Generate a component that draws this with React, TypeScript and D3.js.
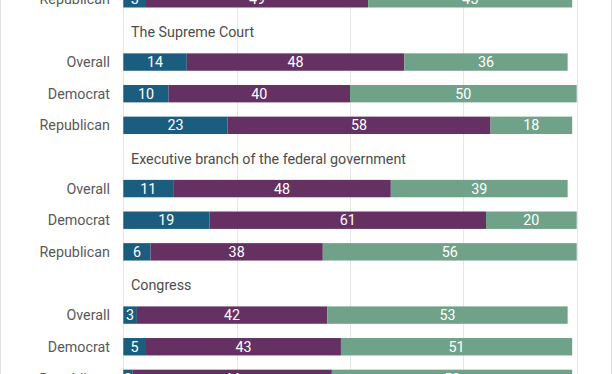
import React from 'react';
import * as d3 from 'd3';

// groups shown (the first one is cut off at the top of the picture)
const sections = ['', 'The Supreme Court', 'Executive branch of the federal government', 'Congress'];
const groups = ['Overall', 'Democrat', 'Republican'];
const seriesKeys = ['a', 'b', 'c'];
const colors = ['#1b5d7e', '#653163', '#6fa288'];

// values per section: [Overall, Democrat, Republican]
const prevRepublican = [5, 49, 45];
const supremeCourt = [[14, 48, 36], [10, 40, 50], [23, 58, 18]];
const executive = [[11, 48, 39], [19, 61, 20], [6, 38, 56]];
const congress = [[3, 42, 53], [5, 43, 51], [2, 44, 53]];
const xTicks = [0, 25, 50, 75, 100];

const W = 612;
const H = 374;

type Row = { id: string; kind: 'title' | 'bar'; label: string; values?: number[] };

function buildRows(): Row[] {
  const rows: Row[] = [{ id: 'r0', kind: 'bar', label: 'Republican', values: prevRepublican }];
  const blocks = [supremeCourt, executive, congress];
  blocks.forEach((block, s) => {
    rows.push({ id: 't' + s, kind: 'title', label: sections[s + 1] });
    block.forEach((v, g) => rows.push({ id: 's' + s + g, kind: 'bar', label: groups[g], values: v }));
  });
  return rows;
}

export default function App() {
  const rows = buildRows();
  const step = 31.63;
  const firstCenter = -1.2;

  const x = d3.scaleLinear().domain([0, 100]).range([123.3, 576.7]);
  const y = d3
    .scaleBand<string>()
    .domain(rows.map(r => r.id))
    .range([firstCenter - step / 2, firstCenter - step / 2 + step * rows.length])
    .paddingInner(0.45)
    .paddingOuter(0.225);

  const stack = d3.stack<number[]>().keys(seriesKeys).value((d, k) => d[seriesKeys.indexOf(k)]);
  const barRows = rows.filter(r => r.kind === 'bar');
  const stacked = stack(barRows.map(r => r.values as number[]));

  const font = 'Roboto, sans-serif';
  const fs = 14.3;

  return (
    <div style={{ position: 'absolute', left: 0, top: 0 }}>
      <svg width={W} height={H} style={{ display: 'block', background: '#fff' }}>
        {/* frame */}
        <line x1={0.5} x2={0.5} y1={0} y2={H} stroke="#e3e3e3" />
        <line x1={W - 0.5} x2={W - 0.5} y1={0} y2={H} stroke="#e3e3e3" />

        {/* grid */}
        {xTicks.map(t => (
          <line key={t} x1={Math.round(x(t)) + 0.5} x2={Math.round(x(t)) + 0.5} y1={0} y2={H} stroke="#e6e6e6" />
        ))}

        {/* bars */}
        {stacked.map((layer, li) => (
          <g key={li} fill={colors[li]}>
            {layer.map((d, i) => (
              <rect
                key={i}
                x={x(d[0])}
                y={y(barRows[i].id)}
                width={x(d[1]) - x(d[0])}
                height={y.bandwidth()}
              />
            ))}
          </g>
        ))}

        {/* value labels */}
        {stacked.map((layer, li) => (
          <g key={'l' + li} fill="#fff" fontFamily={font} fontSize={fs} textAnchor="middle">
            {layer.map((d, i) => (
              <text
                key={i}
                x={(x(d[0]) + x(d[1])) / 2}
                y={(y(barRows[i].id) as number) + y.bandwidth() / 2}
                dy="0.36em"
              >
                {d[1] - d[0]}
              </text>
            ))}
          </g>
        ))}

        {/* category labels */}
        {barRows.map(r => (
          <text
            key={'c' + r.id}
            x={110}
            y={(y(r.id) as number) + y.bandwidth() / 2}
            dy="0.36em"
            textAnchor="end"
            fontFamily={font}
            fontSize={fs}
            fill="#595959"
          >
            {r.label}
          </text>
        ))}

        {/* section titles */}
        {rows
          .filter(r => r.kind === 'title')
          .map(r => (
            <text
              key={r.id}
              x={131}
              y={(y(r.id) as number) + y.bandwidth() / 2 + 1.5}
              dy="0.36em"
              fontFamily={font}
              fontSize={fs}
              fill="#4d4d4d"
            >
              {r.label}
            </text>
          ))}
      </svg>
    </div>
  );
}
